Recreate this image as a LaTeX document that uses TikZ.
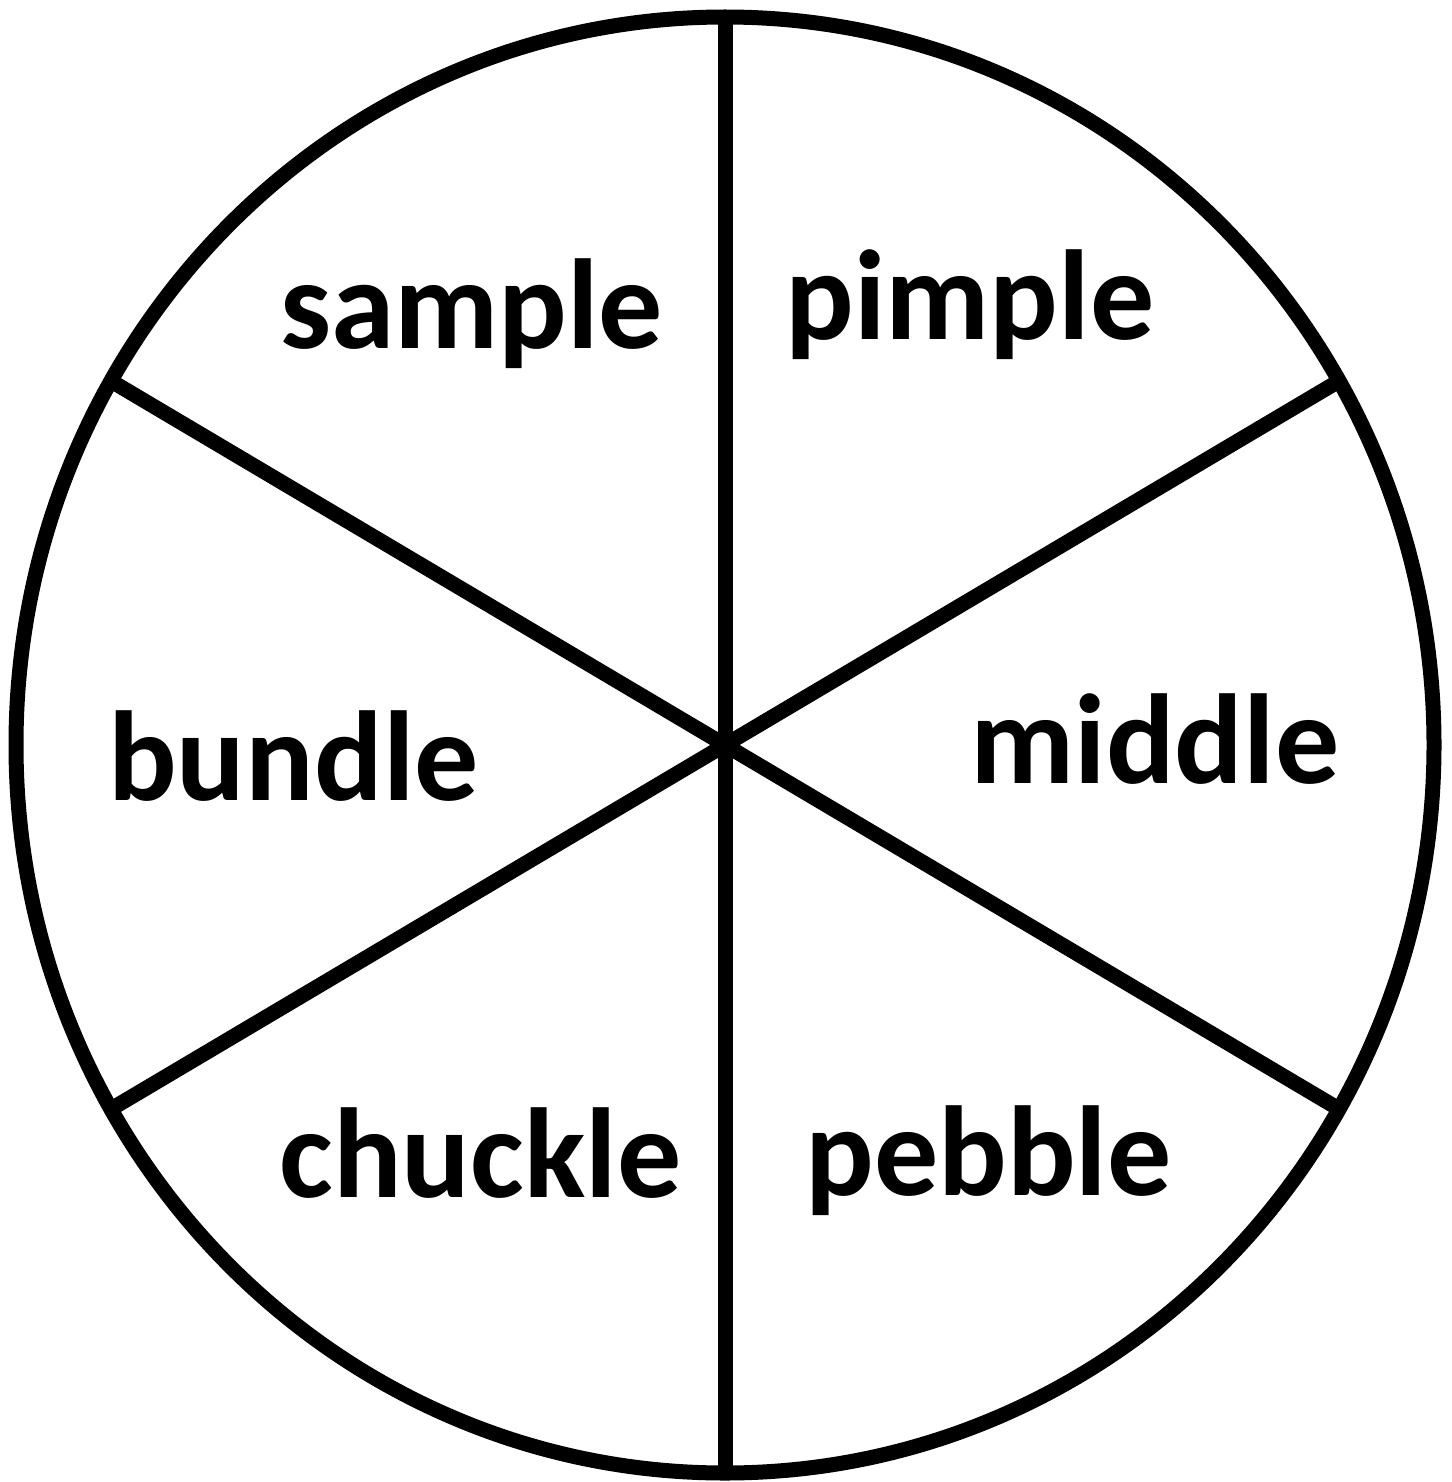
\documentclass[tikz,border=0pt]{standalone}
\usepackage{fontspec}
\setmainfont{Carlito}
\begin{document}
\begin{tikzpicture}[x=0.5pt,y=-0.5pt,
  wheel/.style={line width=7.5pt,draw=black},
  word/.style={font=\fontsize{64}{72}\selectfont\bfseries,anchor=base,inner sep=0pt}]
\useasboundingbox (0,0) rectangle (1451,1482);
\fill[white] (0,0) rectangle (1451,1482);
\coordinate (c) at (725,745);
\coordinate (p90) at (725,17);
\coordinate (p30) at (1339,381);
\coordinate (p330) at (1339,1109);
\coordinate (p270) at (725,1473);
\coordinate (p210) at (111,1109);
\coordinate (p150) at (111,381);
\draw[wheel] (c) -- (p90);
\draw[wheel] (c) -- (p30);
\draw[wheel] (c) -- (p330);
\draw[wheel] (c) -- (p270);
\draw[wheel] (c) -- (p210);
\draw[wheel] (c) -- (p150);
\draw[wheel] (c) ellipse [x radius=354.5pt, y radius=364pt];
\node[word] (sample) at (471.5,348) {sample};
\node[word] (pimple) at (970,339) {pimple};
\node[word] (bundle) at (293.5,800) {bundle};
\node[word] (middle) at (1155,783) {middle};
\node[word] (chuckle) at (480.5,1197) {chuckle};
\node[word] (pebble) at (988.5,1195) {pebble};
\end{tikzpicture}
\end{document}
